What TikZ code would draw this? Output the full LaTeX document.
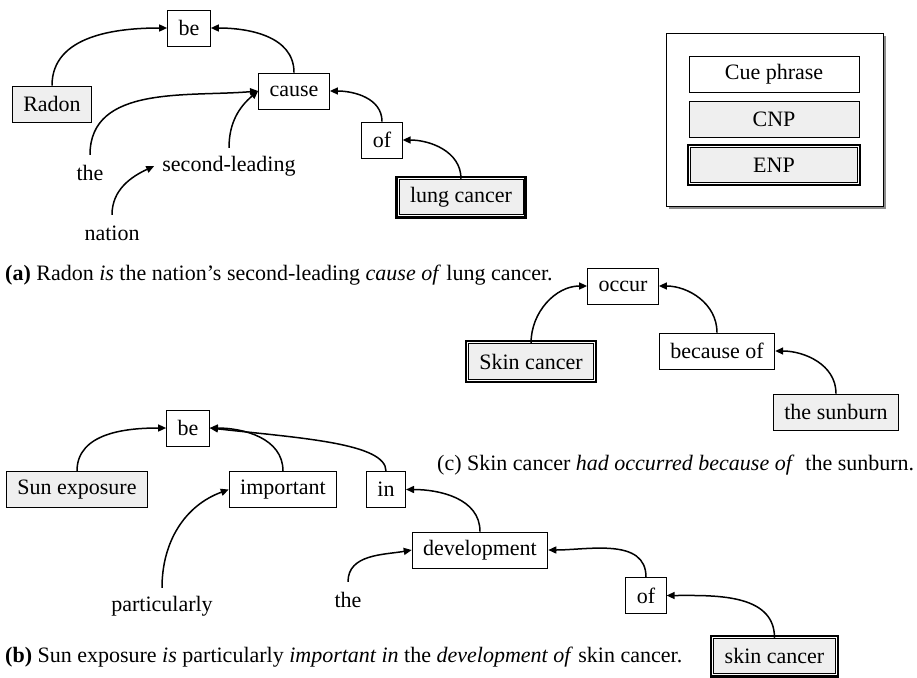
\documentclass[tikz,border=0pt]{standalone}
\usepackage{fontspec}
\setmainfont{Liberation Serif}
\usetikzlibrary{arrows.meta}
\definecolor{boxgray}{HTML}{EFEFEF}
\definecolor{shadowgray}{HTML}{8C8C8C}
\begin{document}
\begin{tikzpicture}[x=1pt,y=1pt,
  font=\fontsize{22}{26}\selectfont,
  wbox/.style={draw, line width=0.9pt, fill=white, minimum height=36pt, inner xsep=11pt, inner ysep=0pt},
  gbox/.style={wbox, fill=boxgray},
  ebox/.style={wbox, fill=boxgray, minimum height=35.6pt,
    preaction={draw=black, line width=7.4pt},
    preaction={draw=white, line width=2.8pt}},
  word/.style={minimum height=36pt, inner xsep=8pt, inner ysep=0pt},
  arr/.style={-{Triangle[length=8pt,width=7pt]}, line width=1.5pt},
  capt/.style={anchor=west, inner sep=0pt}
]
\useasboundingbox (0,0) rectangle (917,-677);

% ---------- (a) ----------
\node[wbox] (be1) at (189,-28) {be};
\node[gbox] (radon) at (52,-104) {Radon};
\node[wbox] (cause) at (294,-91) {cause};
\node[word] (the1) at (90,-173) {the};
\node[word] (second) at (229,-166) {second-leading};
\node[word] (nation) at (112,-233) {nation};
\node[wbox] (of1) at (382,-140) {of};
\node[ebox] (lung) at (461,-197) {lung cancer};
\node[capt] (capA) at (5,-275) {\textbf{(a)} Radon \textit{is} the nation’s second-leading \textit{cause of} lung cancer.};

\draw[arr] (radon.north) to[out=90,in=180] (be1.west);
\draw[arr] (cause.north) to[out=90,in=0] (be1.east);
\draw[arr] (the1.north) to[out=90,in=185] (cause.west);
\draw[arr] (second.north) to[out=90,in=220] (cause.west);
\draw[arr] (nation.north) to[out=90,in=205] (second.west);
\draw[arr] (of1.north) to[out=90,in=0] (cause.east);
\draw[arr] (lung.north) to[out=90,in=0] (of1.east);

% ---------- legend ----------
\fill[shadowgray] (669,-36) rectangle (886,-209);
\draw[line width=0.9pt, fill=white] (666,-33) rectangle (883,-206);
\node[wbox, minimum width=170pt] (cue) at (774,-74) {Cue phrase};
\node[gbox, minimum width=170pt] (cnp) at (774,-119.5) {CNP};
\node[ebox, minimum width=166.6pt, minimum height=34.6pt] (enp) at (774,-165) {ENP};

% ---------- (c) ----------
\node[wbox] (occur) at (623,-286) {occur};
\node[ebox] (skinc) at (531,-361.5) {Skin cancer};
\node[wbox] (because) at (717,-351) {because of};
\node[gbox] (sunburn) at (836,-412) {the sunburn};
\node[capt] (capC) at (437,-465) {(c) Skin cancer \textit{had occurred because of}\ \ the sunburn.};

\draw[arr] (skinc.north) to[out=90,in=180] (occur.west);
\draw[arr] (because.north) to[out=90,in=0] (occur.east);
\draw[arr] (sunburn.north) to[out=90,in=0] (because.east);

% ---------- (b) ----------
\node[wbox] (be2) at (188,-428) {be};
\node[gbox] (sun) at (77,-489.5) {Sun exposure};
\node[wbox] (important) at (283,-489.5) {important};
\node[wbox] (inn) at (386,-489.5) {in};
\node[word] (partic) at (162,-606) {particularly};
\node[wbox] (devel) at (480,-550) {development};
\node[word] (the2) at (348,-600) {the};
\node[wbox] (of2) at (646,-595.5) {of};
\node[ebox] (skin2) at (774.5,-656) {skin cancer};
\node[capt] (capB) at (5,-657) {\textbf{(b)} Sun exposure \textit{is} particularly \textit{important in} the \textit{development of} skin cancer.};

\draw[arr] (sun.north) to[out=90,in=180] (be2.west);
\draw[arr] (important.north) to[out=90,in=0] (be2.east);
\draw[arr] (inn.north) .. controls +(0,28) and +(90,-10) .. (be2.east);
\draw[arr] (partic.north) to[out=90,in=200] (important.west);
\draw[arr] (devel.north) to[out=90,in=0] (inn.east);
\draw[arr] (the2.north) to[out=90,in=190] (devel.west);
\draw[arr] (of2.north) to[out=90,in=0] (devel.east);
\draw[arr] (skin2.north) to[out=90,in=0] (of2.east);
\end{tikzpicture}
\end{document}
